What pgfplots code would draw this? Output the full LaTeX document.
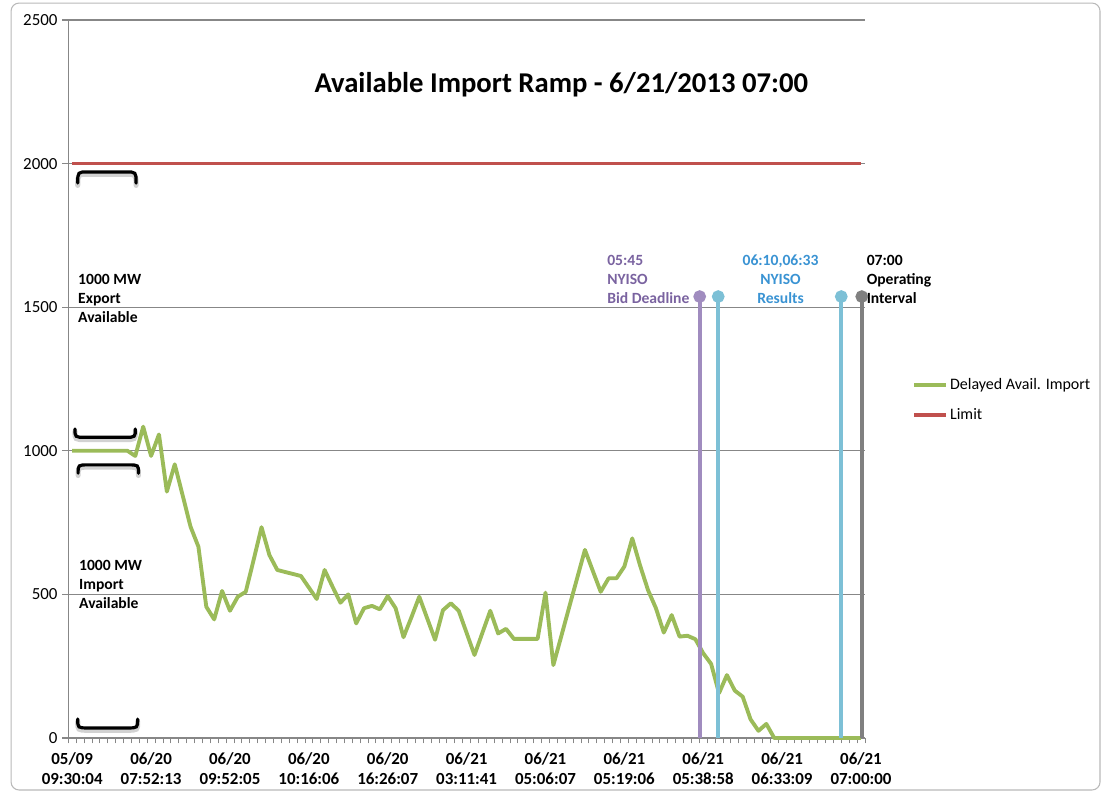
\documentclass[border=0pt]{standalone}
\usepackage{pgfplots}
\pgfplotsset{compat=1.18}
\usepackage{fontspec}
\setmainfont{Carlito}
\definecolor{grn}{HTML}{9BBB59}
\definecolor{lim}{HTML}{C0504D}
\definecolor{purp}{HTML}{A08CBF}
\definecolor{aqua}{HTML}{7DC0D6}
\definecolor{purtext}{HTML}{7A63A0}
\definecolor{bluetext}{HTML}{3A93D3}
\definecolor{gridc}{HTML}{878787}
\newcommand\brkcap[4]{% x1 x2 yflat yends
  \draw[gray!35, line width=3.8pt, line cap=round] (axis cs:#1,#4-8) .. controls (axis cs:#1,#3-8) .. (axis cs:#1+1.3,#3-8) -- (axis cs:#2-1.3,#3-8) .. controls (axis cs:#2,#3-8) .. (axis cs:#2,#4-8);
  \draw[black, line width=2.4pt, line cap=round] (axis cs:#1,#4) .. controls (axis cs:#1,#3) .. (axis cs:#1+1.3,#3) -- (axis cs:#2-1.3,#3) .. controls (axis cs:#2,#3) .. (axis cs:#2,#4);}
\begin{document}
\begin{tikzpicture}
\path[use as bounding box] (-51.2pt,-45pt) rectangle (781.3pt,553.5pt);
\draw[gray!55, line width=0.8pt, rounded corners=6pt] (-42.9pt,-39pt) rectangle (773.8pt,551.2pt);
\begin{axis}[
 at={(0,0)}, anchor=south west,
 scale only axis, width=597.5pt, height=538.5pt,
 xmin=-0.5, xmax=100.5, ymin=0, ymax=2500,
 clip=false,
 axis x line=bottom, axis y line=left,
 axis line style={gridc, line width=0.8pt, -},
 ytick={0,500,1000,1500,2000,2500},
 yticklabels={0,500,1000,1500,2000,2500},
 ymajorgrids, grid style={gridc, line width=0.8pt},
 xtick={0,10,...,100},
 xticklabels={{05/09\\09:30:04},{06/20\\07:52:13},{06/20\\09:52:05},{06/20\\10:16:06},{06/20\\16:26:07},{06/21\\03:11:41},{06/21\\05:06:07},{06/21\\05:19:06},{06/21\\05:38:58},{06/21\\06:33:09},{06/21\\07:00:00}},
 minor xtick={-0.5,0.5,...,100.5},
 tick align=outside,
 major tick length=4.5pt, minor tick length=4pt,
 major x tick style={draw=none},
 minor x tick style={gridc, line width=0.6pt},
 major y tick style={gridc, line width=0.8pt},
 xticklabel style={font=\bfseries\fontsize{12.7}{15}\selectfont, align=center, text=black, yshift=-3pt},
 yticklabel style={font=\fontsize{12.7}{15}\selectfont, text=black},
 legend style={at={(1.059,0.4708)}, anchor=west, draw=none, fill=none, inner sep=0pt,
   font=\fontsize{12}{14}\selectfont, row sep=9.5pt, nodes={inner sep=1.5pt}},
 legend cell align=left,
 legend image code/.code={\draw[#1] (0pt,0pt) -- (24pt,0pt);},
]
\addplot[grn, line width=2.9pt, line join=round] coordinates {
(0,1000)(1,1000)(2,1000)(3,1000)(4,1000)(5,1000)(6,1000)(7,1000)(8,982)(9,1084)
(10,982)(11,1057)(12,858)(13,953)(14,845)(15,736)(16,666)(17,457)(18,413)(19,512)
(20,443)(21,492)(22,509)(23,620)(24,734)(25,637)(26,585)(27,578)(28,571)(29,564)
(30,524)(31,484)(32,585)(33,527)(34,471)(35,500)(36,399)(37,452)(38,460)(39,448)
(40,494)(41,452)(42,351)(43,420)(44,492)(45,417)(46,342)(47,445)(48,469)(49,443)
(50,366)(51,289)(52,366)(53,443)(54,364)(55,380)(56,345)(57,345)(58,345)(59,345)
(60,506)(61,254)(62,354)(63,455)(64,555)(65,655)(66,582)(67,509)(68,556)(69,556)
(70,597)(71,695)(72,600)(73,515)(74,452)(75,367)(76,428)(77,353)(78,356)(79,344)
(80,295)(81,258)(82,156)(83,219)(84,165)(85,144)(86,65)(87,25)(88,49)(89,0)
(90,0)(91,0)(92,0)(93,0)(94,0)(95,0)(96,0)(97,0)(98,0)(99,0)(100,0)};
\addlegendentry{Delayed Avail. Import}
\addplot[lim, line width=2.6pt] coordinates {(0,2000)(100,2000)};
\addlegendentry{Limit}
\addplot[purp, line width=3pt, mark=*, mark indices={2}, mark size=3.2pt, mark options={fill=purp, draw=purp}, forget plot] coordinates {(79.55,0)(79.55,1537)};
\addplot[aqua, line width=3pt, mark=*, mark indices={2}, mark size=3.2pt, mark options={fill=aqua, draw=aqua}, forget plot] coordinates {(81.9,0)(81.9,1537)};
\addplot[aqua, line width=3pt, mark=*, mark indices={2}, mark size=3.2pt, mark options={fill=aqua, draw=aqua}, forget plot] coordinates {(97.5,0)(97.5,1537)};
\addplot[gray, line width=3pt, mark=*, mark indices={2}, mark size=3.2pt, mark options={fill=gray, draw=gray}, forget plot] coordinates {(100.1,0)(100.1,1537)};
% brackets
\brkcap{0.7}{8.1}{1971}{1932}
\brkcap{0.75}{8.4}{951}{922}
\brkcap{0.35}{8.0}{1047}{1076}
\brkcap{0.7}{8.3}{35}{66}
% texts
\node[anchor=base, inner sep=0pt, font=\bfseries\fontsize{21.5}{26}\selectfont] at (axis cs:62.0,2249) {Available Import Ramp - 6/21/2013 07:00};
\node[anchor=west, align=left, inner sep=0pt, font=\bfseries\fontsize{11.7}{14.25}\selectfont] at (axis cs:0.73,1532) {1000 MW\\Export\\Available};
\node[anchor=west, align=left, inner sep=0pt, font=\bfseries\fontsize{11.7}{14.25}\selectfont] at (axis cs:0.85,536) {1000 MW\\Import\\Available};
\node[anchor=west, align=left, inner sep=0pt, text=purtext, font=\bfseries\fontsize{11.7}{14.25}\selectfont] at (axis cs:67.8,1598) {05:45\\NYISO\\Bid Deadline};
\node[anchor=center, align=center, inner sep=0pt, text=bluetext, font=\bfseries\fontsize{11.7}{14.25}\selectfont] at (axis cs:89.8,1598) {06:10,06:33\\NYISO\\Results};
\node[anchor=west, align=left, inner sep=0pt, font=\bfseries\fontsize{11.7}{14.25}\selectfont] at (axis cs:100.7,1598) {07:00\\Operating\\Interval};
\end{axis}
\end{tikzpicture}
\end{document}
